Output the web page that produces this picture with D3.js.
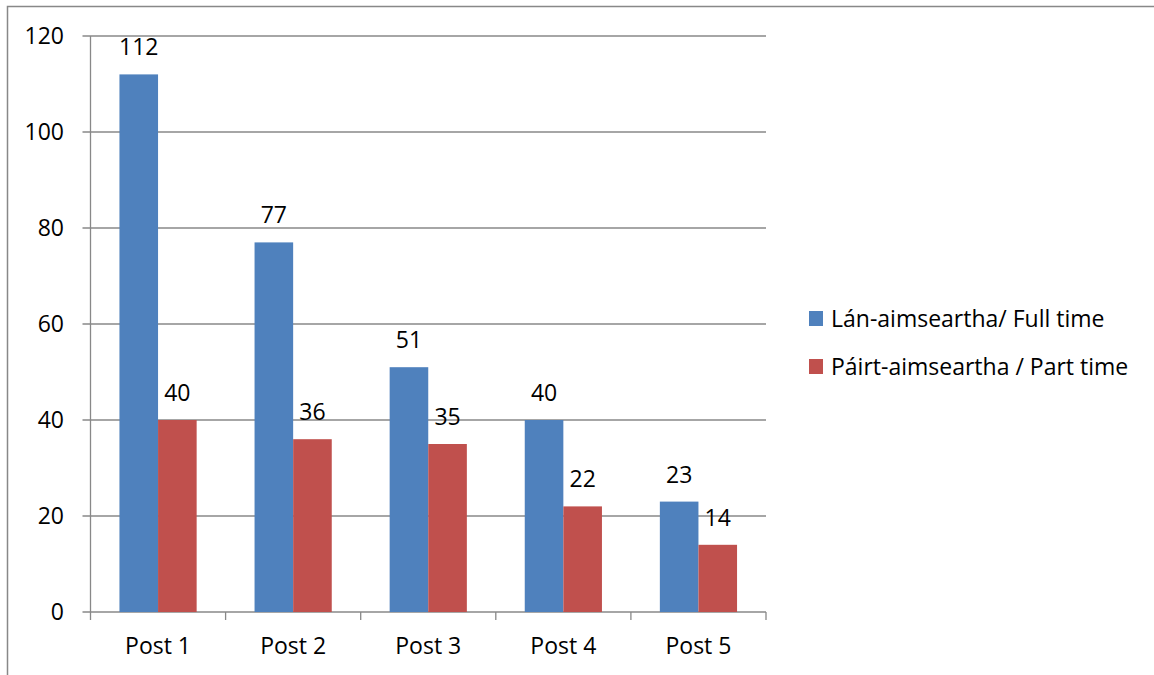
<!DOCTYPE html>
<html>
<head>
<meta charset="utf-8">
<script src="https://cdn.jsdelivr.net/npm/d3@7"></script>
<style>
  body { margin: 0; background: #fff; }
  text { font-family: "Open Sans", "Liberation Sans", Arial, sans-serif; fill: #000; }
</style>
</head>
<body>
<svg id="chart" width="1154" height="675"></svg>
<script>
let posts = ['Post 1', 'Post 2', 'Post 3', 'Post 4', 'Post 5'];
let fullTime = [112, 77, 51, 40, 23];
let partTime = [40, 36, 35, 22, 14];
let seriesNames = ['Lán-aimseartha/ Full time', 'Páirt-aimseartha / Part time'];
let seriesColors = ['#4F81BD', '#C0504D'];
let yTicks = [0, 20, 40, 60, 80, 100, 120];

let svg = d3.select('#chart');
let gridColor = '#888';
let fontSize = 23;

// outer chart border (cut off at right / bottom)
svg.append('path')
  .attr('d', 'M7.5,675 V6.5 H1154')
  .attr('fill', 'none')
  .attr('stroke', gridColor)
  .attr('stroke-width', 1.5);

let plotLeft = 90.5, plotRight = 766, plotTop = 36, plotBottom = 612;

let x = d3.scaleBand().domain(posts).range([plotLeft, plotRight]).paddingInner(0).paddingOuter(0);
let y = d3.scaleLinear().domain([0, 120]).range([plotBottom, plotTop]);

// gridlines
svg.append('g').selectAll('line').data(yTicks).enter().append('line')
  .attr('x1', plotLeft - 8)
  .attr('x2', plotRight)
  .attr('y1', (d) => y(d))
  .attr('y2', (d) => y(d))
  .attr('stroke', gridColor)
  .attr('stroke-width', 1.3);

// y axis line
svg.append('line')
  .attr('x1', plotLeft).attr('x2', plotLeft)
  .attr('y1', plotTop).attr('y2', plotBottom)
  .attr('stroke', gridColor).attr('stroke-width', 1.3);

// x ticks at category boundaries
let bounds = posts.map((p) => x(p)).concat([plotRight]);
svg.append('g').selectAll('line').data(bounds).enter().append('line')
  .attr('x1', (d) => d).attr('x2', (d) => d)
  .attr('y1', plotBottom).attr('y2', plotBottom + 8)
  .attr('stroke', gridColor).attr('stroke-width', 1.3);

// y tick labels
svg.append('g').selectAll('text').data(yTicks).enter().append('text')
  .attr('x', 64)
  .attr('y', (d) => y(d) + 8)
  .attr('text-anchor', 'end')
  .attr('font-size', fontSize)
  .text((d) => d);

// x labels
svg.append('g').selectAll('text').data(posts).enter().append('text')
  .attr('x', (d) => x(d) + x.bandwidth() / 2)
  .attr('y', 654)
  .attr('text-anchor', 'middle')
  .attr('font-size', fontSize)
  .text((d) => d);

// bars
let inner = d3.scaleBand().domain([0, 1]).range([0, x.bandwidth()]).paddingOuter(0.75).paddingInner(0);
let series = [fullTime, partTime];

series.forEach((vals, s) => {
  let g = svg.append('g');
  g.selectAll('rect').data(vals).enter().append('rect')
    .attr('x', (d, i) => x(posts[i]) + inner(s))
    .attr('y', (d) => y(d))
    .attr('width', inner.bandwidth())
    .attr('height', (d) => y(0) - y(d))
    .attr('fill', seriesColors[s]);
  g.selectAll('text').data(vals).enter().append('text')
    .attr('x', (d, i) => x(posts[i]) + inner(s) + inner.bandwidth() / 2)
    .attr('y', (d) => y(d) - 19)
    .attr('text-anchor', 'middle')
    .attr('font-size', fontSize)
    .text((d) => d);
});

// legend
let legend = svg.append('g').selectAll('g').data(seriesNames).enter().append('g')
  .attr('transform', (d, i) => `translate(809,${311 + i * 48})`);
legend.append('rect')
  .attr('width', 14).attr('height', 15)
  .attr('fill', (d, i) => seriesColors[i]);
legend.append('text')
  .attr('x', 22).attr('y', 15.5)
  .attr('font-size', fontSize)
  .text((d) => d);
</script>
</body>
</html>
